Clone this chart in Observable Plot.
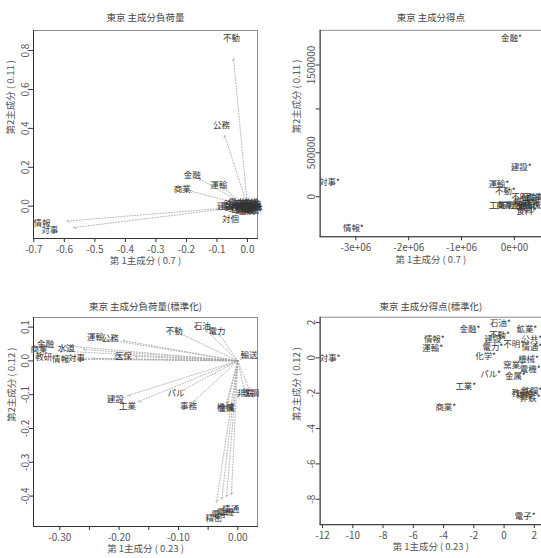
<!DOCTYPE html>
<html><head><meta charset="utf-8">
<script src="https://cdn.jsdelivr.net/npm/d3@7"></script>
<script src="https://cdn.jsdelivr.net/npm/@observablehq/plot@0.6"></script>
<style>
html,body{margin:0;padding:0;background:#fff;}
#wrap{position:relative;width:541px;height:558px;overflow:hidden;background:#fff;font-family:"Noto Sans CJK JP",sans-serif;}
.panel{position:absolute;}
</style></head><body><div id="wrap"></div>
<script>
// ---------- Panel 1: 主成分負荷量 (loadings) ----------
const p1Names = ["不動","公務","金融","運輸","商業","情報","対事","対個",
  "建設","鉄鋼","電力","石油","化学","水道","医保","教研","窯業","機械","電機","輸送","精密","電子","鉱業","農林","食料","繊維","パル","非鉄","金属","事務","不明"];
const p1X = [-0.052,-0.085,-0.181,-0.094,-0.214,-0.673,-0.648,-0.056,
  -0.072,-0.050,-0.035,-0.020,-0.010,-0.040,-0.025,0.000,0.010,0.015,0.005,0.020,0.012,-0.005,-0.012,0.022,-0.015,0.008,-0.030,0.018,-0.002,-0.055,0.003];
const p1Y = [0.863,0.415,0.161,0.110,0.089,-0.087,-0.125,-0.065,
  0.002,0.012,0.020,0.008,0.015,-0.010,-0.018,0.005,0.012,-0.005,-0.015,0.002,-0.020,-0.008,-0.022,-0.012,0.002,0.020,0.002,0.008,-0.025,-0.008,0.000];
const p1XTicks = [-0.7,-0.6,-0.5,-0.4,-0.3,-0.2,-0.1,0.0];
const p1XTickLabels = ["-0.7","-0.6","-0.5","-0.4","-0.3","-0.2","-0.1","0.0"];
const p1YTicks = [0.0,0.2,0.4,0.6,0.8];
const p1YTickLabels = ["0.0","0.2","0.4","0.6","0.8"];

// ---------- Panel 2: 主成分得点 (scores) ----------
const p2Names = ["金融*","建設*","対事*","情報*","運輸*","不動*","不明*","石油*","鉱業*",
  "工業*","商業*","対個*","公務*","化学*","機械*","電力*","医保*","教研*","食料*"];
const p2X = [-56000,131000,-3497000,-3047000,-295000,-170000,137000,306000,420000,
  -285000,-145000,-13000,118000,250000,380000,175000,360000,269000,231000];
const p2Y = [1806000,332000,169000,-365000,144000,64000,-7000,-7000,-7000,
  -94000,-94000,-94000,-94000,-94000,-94000,-60000,-49000,-128000,-170000];
const p2XTicks = [-3e6,-2e6,-1e6,0];
const p2XTickLabels = ["-3e+06","-2e+06","-1e+06","0e+00"];
const p2YTicks = [0,500000,1000000,1500000];
const p2YTickLabels = ["0","500000","","1500000"];

// ---------- Panel 3: 主成分負荷量(標準化) ----------
const p3Names = ["石油","電力","不動","運輸","公務","金融","水道","商業","医保","対事","情報","教研","輸送",
  "建設","工業","パル","事務","機械","金属","非鉄","鉄鋼","電機","電子","精密","情通"];
const p3X = [-0.060,-0.035,-0.107,-0.240,-0.215,-0.324,-0.289,-0.335,-0.193,-0.272,-0.299,-0.327,0.019,
  -0.206,-0.186,-0.104,-0.083,-0.021,-0.019,0.012,0.022,-0.021,-0.030,-0.040,-0.012];
const p3Y = [0.102,0.089,0.089,0.069,0.067,0.050,0.038,0.033,0.015,0.008,0.005,0.010,0.018,
  -0.114,-0.134,-0.097,-0.134,-0.138,-0.140,-0.097,-0.097,-0.447,-0.455,-0.465,-0.440];
const p3XTicks = [-0.30,-0.25,-0.20,-0.15,-0.10,-0.05,0.00];
const p3XTickLabels = ["-0.30","","-0.20","","-0.10","","0.00"];
const p3YTicks = [0.1,0.0,-0.1,-0.2,-0.3,-0.4];
const p3YTickLabels = ["0.1","0.0","-0.1","-0.2","-0.3","-0.4"];

// ---------- Panel 4: 主成分得点(標準化) ----------
const p4Names = ["対事*","情報*","運輸*","金融*","石油*","鉱業*","不動*","建設*","電力*","不明*","公共*","情通*",
  "化学*","機械*","窯業*","電機*","パル*","金属*","工業*","商業*","教研*","鉄鋼*","非鉄*","繊維*","電子*"];
const p4X = [-11.5,-4.61,-4.72,-2.25,-0.24,1.51,-0.30,-0.60,-0.74,0.64,1.84,1.84,
  -1.22,1.62,0.64,1.73,-0.89,0.75,-2.53,-3.85,1.18,1.84,1.73,1.50,1.40];
const p4Y = [-0.04,1.03,0.52,1.63,1.97,1.60,1.25,1.05,0.62,0.79,1.03,0.62,
  0.10,-0.06,-0.41,-0.62,-0.94,-1.07,-1.60,-2.82,-2.03,-1.88,-2.29,-2.10,-8.97];
const p4XTicks = [-12,-10,-8,-6,-4,-2,0,2];
const p4XTickLabels = ["-12","-10","-8","-6","-4","-2","0","2"];
const p4YTicks = [2,0,-2,-4,-6,-8];
const p4YTickLabels = ["2","0","-2","-4","-6","-8"];

const FONT = '"Noto Sans CJK JP","Noto Sans",sans-serif';
const rows = (n, xs, ys) => n.map((name, i) => ({name, x: xs[i], y: ys[i]}));

function panel(o) {
  const xFmt = new Map(o.xTicks.map((t, i) => [t, o.xTickLabels[i]]));
  const yFmt = new Map(o.yTicks.map((t, i) => [t, o.yTickLabels[i]]));
  const marks = [
    Plot.frame({stroke: "#8c8c8c"}),
    Plot.frame({anchor: "left", stroke: "#333"}),
    Plot.frame({anchor: "bottom", stroke: "#333"}),
    Plot.axisX(o.xTicks, {tickSize: 4, tickPadding: 3, tickFormat: d => xFmt.get(d), fontSize: 10, label: null, stroke: "#333", fill: "#555"}),
    Plot.axisY(o.yTicks, {tickSize: 4, tickPadding: 1, tickRotate: -90, tickFormat: d => yFmt.get(d), fontSize: 10, label: null, stroke: "#333", fill: "#555"}),
    Plot.text([o.title], {frameAnchor: "top", dy: o.titleDy, fontSize: 9.5, fill: "#444"}),
    Plot.text([o.xLabel], {frameAnchor: "bottom", dy: o.xLabelDy, fontSize: 9.5, fill: "#555"}),
    Plot.text([o.yLabel], {frameAnchor: "left", dx: o.yLabelDx, rotate: -90, fontSize: 9.5, fill: "#555"})
  ];
  if (o.arrows) {
    marks.push(Plot.arrow(o.data, {x1: 0, y1: 0, x2: d => d.x * o.shrink, y2: d => d.y * o.shrink,
      stroke: "#a0a0a0", strokeWidth: 0.8, strokeDasharray: "1,1.8", headLength: 5}));
  }
  marks.push(Plot.text(o.data, {x: "x", y: "y", text: "name", fontSize: 8.5, fill: "#333"}));
  return Plot.plot({
    width: o.width, height: o.height,
    marginLeft: o.m[0], marginRight: o.m[1], marginTop: o.m[2], marginBottom: o.m[3],
    x: {domain: o.xDomain}, y: {domain: o.yDomain},
    style: {fontFamily: FONT, fontSize: "10px", color: "#333", background: "transparent", overflow: "visible"},
    marks
  });
}

const wrap = document.getElementById("wrap");
function place(svg, left, top) {
  const d = document.createElement("div");
  d.className = "panel"; d.style.left = left + "px"; d.style.top = top + "px";
  d.appendChild(svg); wrap.appendChild(d);
}

place(panel({
  width: 270, height: 279, m: [33, 13, 30, 41],
  xDomain: [-0.701, 0.0328], yDomain: [-0.166, 0.903],
  xTicks: p1XTicks, xTickLabels: p1XTickLabels, yTicks: p1YTicks, yTickLabels: p1YTickLabels,
  title: "東京 主成分負荷量", titleDy: -16.5, xLabel: "第 1主成分 ( 0.7 )", xLabelDy: 25.5,
  yLabel: "第2主成分 ( 0.11 )", yLabelDx: -23,
  data: rows(p1Names, p1X, p1Y), arrows: true, shrink: 0.88
}), 0, 0);

place(panel({
  width: 273, height: 279, m: [50, 0, 30, 41],
  xDomain: [-3.676e6, 0.513e6], yDomain: [-0.456e6, 1.896e6],
  xTicks: p2XTicks, xTickLabels: p2XTickLabels, yTicks: p2YTicks, yTickLabels: p2YTickLabels,
  title: "東京 主成分得点", titleDy: -16.5, xLabel: "第 1主成分 ( 0.7 )", xLabelDy: 26,
  yLabel: "第2主成分 ( 0.11 )", yLabelDx: -23.3,
  data: rows(p2Names, p2X, p2Y), arrows: false
}), 270, 0);

place(panel({
  width: 270, height: 279, m: [33, 13, 38, 32],
  xDomain: [-0.3443, 0.0332], yDomain: [-0.490, 0.1284],
  xTicks: p3XTicks, xTickLabels: p3XTickLabels, yTicks: p3YTicks, yTickLabels: p3YTickLabels,
  title: "東京 主成分負荷量(標準化)", titleDy: -14, xLabel: "第 1主成分 ( 0.23 )", xLabelDy: 25,
  yLabel: "第2主成分 ( 0.12 )", yLabelDx: -22,
  data: rows(p3Names, p3X, p3Y), arrows: true, shrink: 0.9
}), 0, 279);

place(panel({
  width: 273, height: 279, m: [50, 0, 38, 32],
  xDomain: [-12.16, 2.474], yDomain: [-9.44, 2.30],
  xTicks: p4XTicks, xTickLabels: p4XTickLabels, yTicks: p4YTicks, yTickLabels: p4YTickLabels,
  title: "東京 主成分得点(標準化)", titleDy: -14, xLabel: "第 1主成分 ( 0.23 )", xLabelDy: 25,
  yLabel: "第2主成分 ( 0.12 )", yLabelDx: -23.3,
  data: rows(p4Names, p4X, p4Y), arrows: false
}), 270, 279);
</script></body></html>
